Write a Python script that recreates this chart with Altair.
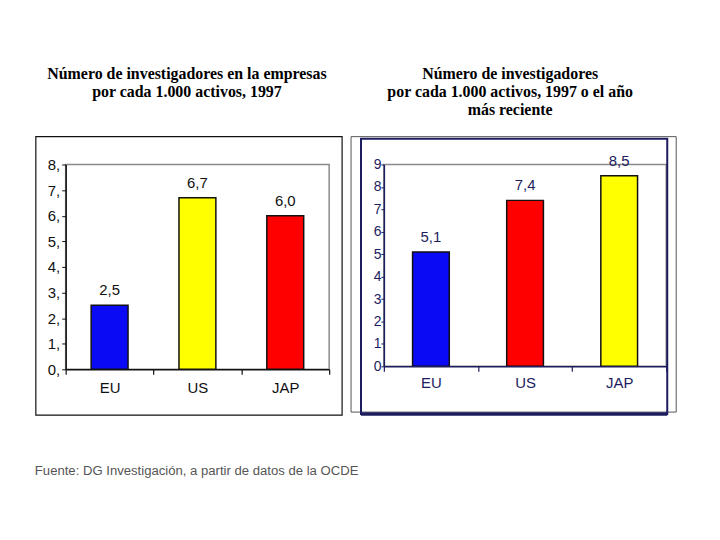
import altair as alt
import pandas as pd

# ---- data ----
regions_left = ["EU", "US", "JAP"]
values_left = [2.5, 6.7, 6.0]
labels_left = ["2,5", "6,7", "6,0"]
colors_left = ["#0a0af5", "#ffff00", "#ff0000"]

regions_right = ["EU", "US", "JAP"]
values_right = [5.1, 7.4, 8.5]
labels_right = ["5,1", "7,4", "8,5"]
colors_right = ["#0a0af5", "#ff0000", "#ffff00"]

title_left = ["Número de investigadores en la empresas", "por cada 1.000 activos, 1997"]
title_right = ["Número de investigadores", "por cada 1.000 activos, 1997 o el año", "más reciente"]
source_text = "Fuente: DG Investigación, a partir de datos de la OCDE"

NAVY = "#1c1c5e"
one = pd.DataFrame({"k": [0]})


def panel(regions, values, labels, colors, ymax, w, h, band_frac, text_color,
          axis_color, ylabel_expr, title_lines, title_x, extras, anchor, cfield):
    df = pd.DataFrame({"region": regions, "value": values, "label": labels,
                       cfield: regions})
    x = alt.X("region:N", sort=regions, title=None,
              scale=alt.Scale(paddingInner=0, paddingOuter=0),
              axis=alt.Axis(labelAngle=0, tickBand="extent", tickSize=5,
                            labelPadding=6 if ymax == 8 else 4,
                            labelFont="Liberation Sans", labelFontSize=15,
                            labelColor=text_color, domainColor=axis_color,
                            domainWidth=1.5, tickColor=axis_color, tickWidth=1.2,
                            zindex=1))
    y = alt.Y("value:Q", title=None,
              scale=alt.Scale(domain=[0, ymax], nice=False),
              axis=alt.Axis(values=list(range(0, ymax + 1)), grid=False,
                            labelExpr=ylabel_expr,
                            tickSize=4 if ymax == 8 else 3,
                            labelPadding=2 if ymax == 8 else 0,
                            labelFont="Liberation Sans",
                            labelFontSize=15 if ymax == 8 else 14,
                            labelColor=text_color, domainColor=axis_color,
                            domainWidth=1.5, tickColor=axis_color, zindex=1))
    base = alt.Chart(df).encode(x=x, y=y)
    bars = base.mark_bar(width=alt.RelativeBandSize(band_frac), stroke="#111111",
                         strokeWidth=1.5).encode(
        color=alt.Color(f"{cfield}:N", scale=alt.Scale(domain=regions, range=colors),
                        legend=None))
    txt = base.mark_text(baseline="bottom", dy=-7, font="Liberation Sans",
                         fontSize=15, color=text_color).encode(text="label:N")
    # invisible anchor fixing the panel's bounds
    anc = alt.Chart(one).mark_rect(opacity=0, fill="white").encode(
        x=alt.value(anchor[0]), x2=alt.value(anchor[1]),
        y=alt.value(-155), y2=alt.value(277))
    ttl = alt.Chart(one).mark_text(font="Liberation Serif", fontWeight="bold",
                                   fontSize=16, color="#000000", align="center",
                                   baseline="middle", lineHeight=18).encode(
        x=alt.value(title_x), y=alt.value(-91),
        text=alt.value(title_lines))
    layers = [anc] + extras + [bars, txt, ttl]
    return alt.layer(*layers).properties(width=w, height=h)


# left panel decorations
left_box = alt.Chart(one).mark_rect(fill="white", fillOpacity=0, stroke="#111111",
                                    strokeWidth=1.2).encode(
    x=alt.value(-30), x2=alt.value(278), y=alt.value(-28), y2=alt.value(252))

left = panel(regions_left, values_left, labels_left, colors_left, 8, 265, 206, 0.42,
             "#111111", "#111111", "datum.value + ','", title_left, 122,
             [left_box], (-57, 280), "cL")

# right panel decorations
right_outer = alt.Chart(one).mark_rect(fill="white", fillOpacity=0, stroke="#555555",
                                       strokeWidth=1).encode(
    x=alt.value(-33), x2=alt.value(294), y=alt.value(-28), y2=alt.value(249))
right_box = alt.Chart(one).mark_rect(fill="white", fillOpacity=0, stroke=NAVY,
                                     strokeWidth=2).encode(
    x=alt.value(-23), x2=alt.value(285), y=alt.value(-26), y2=alt.value(251))
right_bottom = alt.Chart(one).mark_rule(stroke=NAVY, strokeWidth=3.5).encode(
    x=alt.value(-23), x2=alt.value(285), y=alt.value(251))

right = panel(regions_right, values_right, labels_right, colors_right, 9, 284, 203, 0.39,
              NAVY, NAVY, "datum.value", title_right, 127,
              [right_outer, right_box, right_bottom], (-38, 329), "cR")

# footer (source line)
footer = alt.Chart(one).mark_text(font="Liberation Sans", fontSize=13.2, color="#555555",
                                  align="left", baseline="middle").encode(
    x=alt.value(-31), y=alt.value(30), text=alt.value(source_text)
).properties(width=400, height=50, view=alt.ViewBackground(strokeOpacity=0))

top = alt.hconcat(left, right, spacing=0).resolve_scale(color="independent")
chart = alt.vconcat(top, footer, spacing=0).properties(
    padding=0, background="white"
).configure_view(stroke="#8a8a8a", strokeWidth=1.5)

chart.save("out.html", embed_options={"renderer": "svg", "actions": False})
